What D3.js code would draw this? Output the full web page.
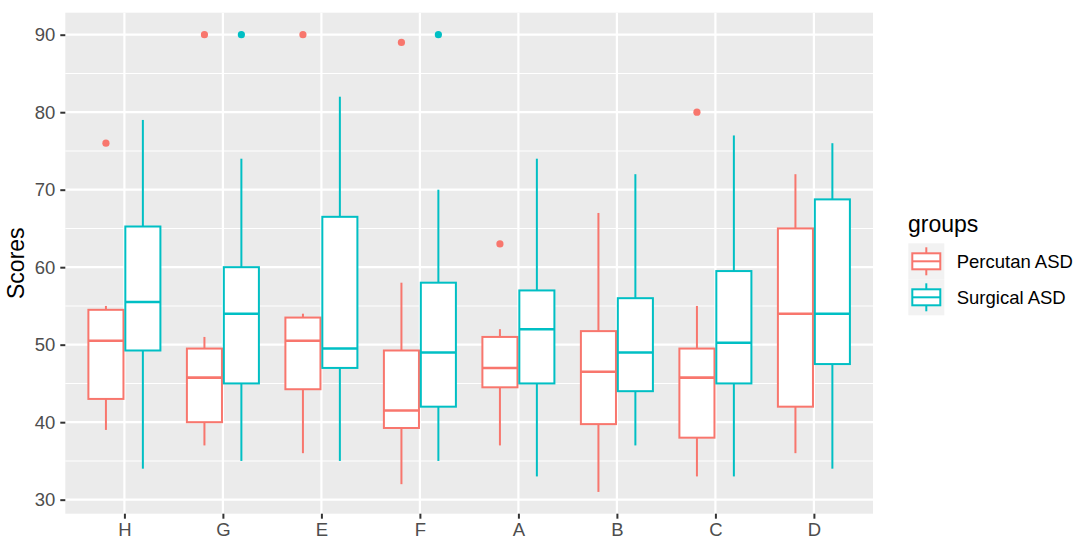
<!DOCTYPE html>
<html>
<head>
<meta charset="utf-8">
<script src="https://cdn.jsdelivr.net/npm/d3@7/dist/d3.min.js"></script>
<style>
  html, body { margin: 0; padding: 0; background: #fff; }
  svg { display: block; font-family: "Liberation Sans", Arial, sans-serif; }
</style>
</head>
<body>
<svg id="chart" width="1084" height="547"></svg>
<script>
// ---- data ----
const categories = ["H", "G", "E", "F", "A", "B", "C", "D"];
const groups = ["Percutan ASD", "Surgical ASD"];
const groupColors = ["#F8766D", "#00BFC4"];
const yTicks = [30, 40, 50, 60, 70, 80, 90];
const yMinor = [35, 45, 55, 65, 75, 85];
// [lower whisker, Q1, median, Q3, upper whisker]
const percutanStats = [
  [39, 43, 50.5, 54.5, 55],
  [37, 40, 45.75, 49.5, 51],
  [36, 44.25, 50.5, 53.5, 54],
  [32, 39.25, 41.5, 49.25, 58],
  [37, 44.5, 47, 51, 52],
  [31, 39.75, 46.5, 51.75, 67],
  [33, 38, 45.75, 49.5, 55],
  [36, 42, 54, 65, 72]
];
const percutanOutliers = [[76], [90], [90], [89], [63], [], [80], []];
const surgicalStats = [
  [34, 49.25, 55.5, 65.25, 79],
  [35, 45, 54, 60, 74],
  [35, 47, 49.5, 66.5, 82],
  [35, 42, 49, 58, 70],
  [33, 45, 52, 57, 74],
  [37, 44, 49, 56, 72],
  [33, 45, 50.25, 59.5, 77],
  [34, 47.5, 54, 68.75, 76]
];
const surgicalOutliers = [[], [90], [], [90], [], [], [], []];
const yLabel = "Scores";
const legendTitle = "groups";

// ---- layout ----
const panel = { left: 65.3, right: 873, top: 12.7, bottom: 513.7 };
const svg = d3.select("#chart");
svg.append("rect").attr("width", 1084).attr("height", 547).attr("fill", "#fff");

const x = d3.scalePoint().domain(categories).range([panel.left, panel.right]).padding(0.6);
const step = x.step();
const xg = d3.scaleBand().domain(groups).range([-step * 0.375, step * 0.375]);
const boxW = step * 0.356;
const y = d3.scaleLinear().domain([28.19, 92.84]).range([panel.bottom, panel.top]);

// panel background
svg.append("rect")
  .attr("x", panel.left).attr("y", panel.top)
  .attr("width", panel.right - panel.left).attr("height", panel.bottom - panel.top)
  .attr("fill", "#EBEBEB");

// grid
const grid = svg.append("g");
grid.selectAll(".ymin").data(yMinor).join("line")
  .attr("x1", panel.left).attr("x2", panel.right)
  .attr("y1", d => y(d)).attr("y2", d => y(d))
  .attr("stroke", "#fff").attr("stroke-width", 1.1);
grid.selectAll(".ymaj").data(yTicks).join("line")
  .attr("x1", panel.left).attr("x2", panel.right)
  .attr("y1", d => y(d)).attr("y2", d => y(d))
  .attr("stroke", "#fff").attr("stroke-width", 2.2);
grid.selectAll(".xmaj").data(categories).join("line")
  .attr("x1", d => x(d)).attr("x2", d => x(d))
  .attr("y1", panel.top).attr("y2", panel.bottom)
  .attr("stroke", "#fff").attr("stroke-width", 2.2);

// boxes
const series = [
  { name: groups[0], color: groupColors[0], stats: percutanStats, outliers: percutanOutliers },
  { name: groups[1], color: groupColors[1], stats: surgicalStats, outliers: surgicalOutliers }
];
const strokeW = 2;
series.forEach(s => {
  const g = svg.append("g");
  categories.forEach((c, i) => {
    const st = s.stats[i];
    const cx = x(c) + xg(s.name) + xg.bandwidth() / 2;
    // whiskers
    g.append("line").attr("x1", cx).attr("x2", cx).attr("y1", y(st[4])).attr("y2", y(st[3]))
      .attr("stroke", s.color).attr("stroke-width", strokeW);
    g.append("line").attr("x1", cx).attr("x2", cx).attr("y1", y(st[1])).attr("y2", y(st[0]))
      .attr("stroke", s.color).attr("stroke-width", strokeW);
    // box
    g.append("rect").attr("x", cx - boxW / 2).attr("y", y(st[3]))
      .attr("width", boxW).attr("height", y(st[1]) - y(st[3]))
      .attr("fill", "#fff").attr("stroke", s.color).attr("stroke-width", strokeW);
    // median
    g.append("line").attr("x1", cx - boxW / 2).attr("x2", cx + boxW / 2)
      .attr("y1", y(st[2])).attr("y2", y(st[2]))
      .attr("stroke", s.color).attr("stroke-width", strokeW + 0.6);
    // outliers
    g.selectAll(null).data(s.outliers[i]).join("circle")
      .attr("cx", cx).attr("cy", d => y(d)).attr("r", 3.6)
      .attr("fill", s.color);
  });
});

// axes
const yAxis = svg.append("g").attr("transform", `translate(${panel.left},0)`)
  .call(d3.axisLeft(y).tickValues(yTicks).tickSize(5).tickPadding(5));
const xAxis = svg.append("g").attr("transform", `translate(0,${panel.bottom})`)
  .call(d3.axisBottom(x).tickSize(5).tickPadding(4));
[yAxis, xAxis].forEach(a => {
  a.select(".domain").remove();
  a.selectAll(".tick line").attr("stroke", "#333").attr("stroke-width", 2);
  a.selectAll(".tick text").attr("fill", "#4D4D4D")
    .style("font-size", "18.5px").style("font-family", "'Liberation Sans', Arial, sans-serif");
});

// y label
svg.append("text")
  .attr("transform", `translate(24,${(panel.top + panel.bottom) / 2}) rotate(-90)`)
  .attr("text-anchor", "middle")
  .style("font-size", "23px").attr("fill", "#000")
  .text(yLabel);

// legend
const lg = svg.append("g");
lg.append("text").attr("x", 908).attr("y", 232)
  .style("font-size", "23px").attr("fill", "#000").text(legendTitle);
const keySize = 36, keyX = 908.3, keyY = 243.3;
series.forEach((s, i) => {
  const ky = keyY + i * keySize;
  lg.append("rect").attr("x", keyX).attr("y", ky).attr("width", keySize).attr("height", keySize)
    .attr("fill", "#F2F2F2");
  const cx = keyX + keySize / 2;
  lg.append("line").attr("x1", cx).attr("x2", cx).attr("y1", ky + 4).attr("y2", ky + keySize - 4)
    .attr("stroke", s.color).attr("stroke-width", strokeW);
  lg.append("rect").attr("x", keyX + 4).attr("y", ky + 10).attr("width", keySize - 8).attr("height", keySize - 20)
    .attr("fill", "#fff").attr("stroke", s.color).attr("stroke-width", strokeW);
  lg.append("line").attr("x1", keyX + 4).attr("x2", keyX + keySize - 4)
    .attr("y1", ky + keySize / 2).attr("y2", ky + keySize / 2)
    .attr("stroke", s.color).attr("stroke-width", strokeW);
  lg.append("text").attr("x", 956.7).attr("y", ky + keySize / 2).attr("dy", "0.35em")
    .style("font-size", "18.5px").attr("fill", "#000").text(s.name);
});
</script>
</body>
</html>
